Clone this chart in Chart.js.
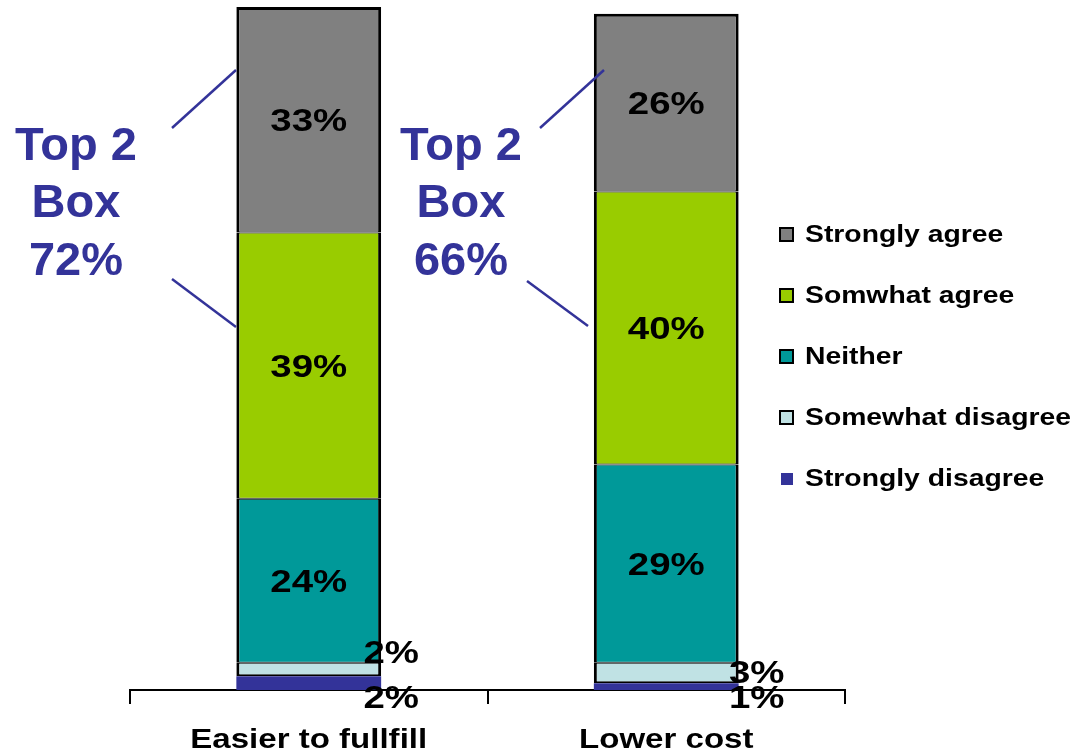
<!DOCTYPE html>
<html>
<head>
<meta charset="utf-8">
<script src="https://cdn.jsdelivr.net/npm/chart.js@4.4.0/dist/chart.umd.min.js"></script>
<style>
html, body { margin: 0; padding: 0; background: #ffffff; }
#wrap { width: 1084px; height: 755px; }
</style>
</head>
<body>
<div id="wrap"><canvas id="chart" width="1084" height="755"></canvas></div>
<script>
// values (percent)
var categories = ["Easier to fullfill", "Lower cost"];
var stronglyDisagree = [2, 1];
var somewhatDisagree = [2, 3];
var neither = [24, 29];
var somwhatAgree = [39, 40];
var stronglyAgree = [33, 26];
var seriesNames = ["Strongly disagree", "Somewhat disagree", "Neither", "Somwhat agree", "Strongly agree"];
var seriesColors = ["#333399", "#C0E2E4", "#009999", "#99CC00", "#808080"];

var FONT = '"Liberation Sans", Arial, sans-serif';
var BLUE = "#333399";

function drawStretched(ctx, text, x, y, size, sx, align) {
    ctx.save();
    ctx.font = "bold " + size + "px " + FONT;
    ctx.translate(x, y);
    ctx.scale(sx, 1);
    ctx.textAlign = align;
    ctx.textBaseline = "alphabetic";
    ctx.fillStyle = "#000000";
    ctx.fillText(text, 0, 0);
    ctx.restore();
}

// segment labels, small ones pushed to the right of the bar
var segmentLabels = {
    id: "segmentLabels",
    afterDatasetsDraw: function(chart) {
        var ctx = chart.ctx;
        chart.data.datasets.forEach(function(ds, di) {
            var meta = chart.getDatasetMeta(di);
            meta.data.forEach(function(el, i) {
                var v = ds.data[i];
                var txt = v + "%";
                if (v >= 5) {
                    var c = (el.y + el.base) / 2;
                    drawStretched(ctx, txt, el.x, c + 11, 32, 1.2, "center");
                } else {
                    var x = el.x + el.width / 2 + [10, 18][i];
                    var y;
                    if (di === 0) y = el.base + 7;
                    else y = el.y + [-11, 9][i];
                    drawStretched(ctx, txt, x, y + 11, 32, 1.2, "center");
                }
            });
        });
    }
};

// category labels under the axis
var axisLabels = {
    id: "axisLabels",
    afterDraw: function(chart) {
        var sc = chart.scales.x;
        categories.forEach(function(c, i) {
            drawStretched(chart.ctx, c, sc.getPixelForValue(i), 748, 28, 1.18, "center");
        });
    }
};

// legend on the right, top series first
var sideLegend = {
    id: "sideLegend",
    afterDraw: function(chart) {
        var ctx = chart.ctx;
        for (var k = 0; k < seriesNames.length; k++) {
            var di = seriesNames.length - 1 - k;
            var base = 242 + k * 61;
            ctx.save();
            if (di === 0) {
                ctx.fillStyle = seriesColors[di];
                ctx.fillRect(781, base - 13, 12, 12);
            } else {
                ctx.fillStyle = "#000000";
                ctx.fillRect(779, base - 15, 15, 15);
                ctx.fillStyle = seriesColors[di];
                ctx.fillRect(781, base - 13, 11, 11);
            }
            ctx.restore();
            drawStretched(ctx, seriesNames[di], 805, base, 24, 1.18, "left");
        }
    }
};

// "Top 2 Box" call-outs
var topBox = {
    id: "topBox",
    afterDraw: function(chart) {
        var ctx = chart.ctx;
        var centers = [76, 461];
        var lines = [
            [[172, 128, 236, 70], [172, 279, 236, 327]],
            [[540, 128, 604, 70], [527, 281, 588, 326]]
        ];
        categories.forEach(function(c, i) {
            var total = stronglyAgree[i] + somwhatAgree[i];
            ctx.save();
            ctx.fillStyle = BLUE;
            ctx.font = "bold 47px " + FONT;
            ctx.textAlign = "center";
            ctx.textBaseline = "alphabetic";
            ctx.fillText("Top 2", centers[i], 160);
            ctx.fillText("Box", centers[i], 217);
            ctx.fillText(total + "%", centers[i], 275);
            ctx.strokeStyle = BLUE;
            ctx.lineWidth = 2.5;
            lines[i].forEach(function(l) {
                ctx.beginPath();
                ctx.moveTo(l[0], l[1]);
                ctx.lineTo(l[2], l[3]);
                ctx.stroke();
            });
            ctx.restore();
        });
    }
};

var seriesData = [stronglyDisagree, somewhatDisagree, neither, somwhatAgree, stronglyAgree];
var datasets = seriesData.map(function(d, di) {
    var bw = {top: 1, bottom: 1, left: 3, right: 3};
    if (di === seriesData.length - 1) bw.top = 3;
    if (di === 1) bw.bottom = 2;
    return {
        label: seriesNames[di],
        data: d,
        backgroundColor: seriesColors[di],
        borderColor: "#000000",
        borderWidth: di === 0 ? 0 : bw,
        borderSkipped: false,
        barPercentage: 1.0,
        categoryPercentage: 0.405
    };
});

var chart = new Chart(document.getElementById("chart").getContext("2d"), {
    type: "bar",
    data: {
        labels: categories,
        datasets: datasets
    },
    options: {
        responsive: false,
        animation: false,
        layout: {
            padding: {left: 130, right: 239, top: 7, bottom: 51}
        },
        plugins: {
            legend: {display: false},
            tooltip: {enabled: false}
        },
        scales: {
            x: {
                stacked: true,
                offset: true,
                grid: {
                    offset: true,
                    drawOnChartArea: false,
                    drawTicks: true,
                    tickLength: 14,
                    color: "#000000",
                    lineWidth: 2
                },
                border: {display: true, color: "#000000", width: 2},
                ticks: {display: false}
            },
            y: {
                stacked: true,
                display: false,
                min: 0,
                max: 100
            }
        }
    },
    plugins: [segmentLabels, axisLabels, sideLegend, topBox]
});
</script>
</body>
</html>
